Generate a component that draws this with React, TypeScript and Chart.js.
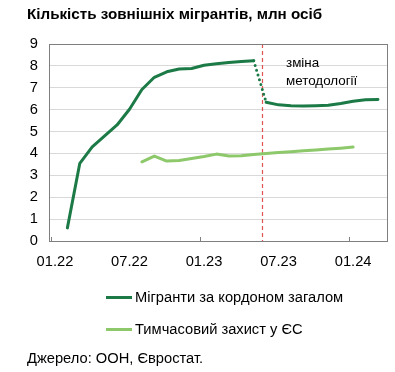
import React, { useEffect, useRef } from 'react';
import { Chart, registerables } from 'chart.js';

Chart.register(...registerables);

// ---- data ----
const axisLabels = ['01.22', '07.22', '01.23', '07.23', '01.24'];
const yearStarts = ['01.22', '01.23', '01.24'];
const methodologyChange = '06.23';

const totalMonthsBefore = ['02.22', '03.22', '04.22', '05.22', '06.22', '07.22', '08.22', '09.22', '10.22', '11.22', '12.22', '01.23', '02.23', '03.23', '04.23', '05.23'];
const totalBefore = [0.6, 3.55, 4.3, 4.8, 5.3, 6.02, 6.92, 7.48, 7.73, 7.86, 7.88, 8.03, 8.1, 8.15, 8.2, 8.24];

const totalMonthsAfter = ['06.23', '07.23', '08.23', '09.23', '10.23', '11.23', '12.23', '01.24', '02.24', '03.24'];
const totalAfter = [6.34, 6.22, 6.18, 6.17, 6.18, 6.2, 6.28, 6.38, 6.45, 6.47];

const tempMonths = ['08.22', '09.22', '10.22', '11.22', '12.22', '01.23', '02.23', '03.23', '04.23', '05.23', '06.23', '07.23', '08.23', '09.23', '10.23', '11.23', '12.23', '01.24'];
const tempProtection = [3.62, 3.88, 3.65, 3.68, 3.77, 3.86, 3.97, 3.88, 3.9, 3.95, 4.0, 4.04, 4.08, 4.12, 4.16, 4.2, 4.24, 4.29];

const seriesNames = ['Мігранти за кордоном загалом', 'Тимчасовий захист у ЄС'];

// ---- helpers ----
const monthIndex = (s: string) => {
  const [mm, yy] = s.split('.').map(Number);
  return (yy - 22) * 12 + (mm - 1);
};
const toPoints = (months: string[], vals: number[]) => months.map((m, i) => ({ x: monthIndex(m), y: vals[i] }));

const DARK = '#1b7a46';
const LIGHT = '#8dc86b';
const RED = '#e05454';
const FONT = '"Liberation Sans", Arial, sans-serif';
const FS = 14.7;
const MONTH_START_SHIFT = 0.35;

const framePlugin = {
  id: 'frame',
  beforeDatasetsDraw(chart: any) {
    const { ctx, chartArea: a, scales } = chart;
    const x = scales.x;
    ctx.save();
    const rx = Math.round(x.getPixelForValue(monthIndex(methodologyChange) - MONTH_START_SHIFT)) + 0.5;
    ctx.strokeStyle = RED;
    ctx.lineWidth = 1.2;
    ctx.setLineDash([4, 3]);
    ctx.beginPath();
    ctx.moveTo(rx, a.top);
    ctx.lineTo(rx, a.bottom);
    ctx.stroke();
    ctx.restore();
  },
  afterDraw(chart: any) {
    const { ctx, chartArea: a, scales } = chart;
    const x = scales.x;
    ctx.save();
    ctx.strokeStyle = '#7f7f7f';
    ctx.lineWidth = 1;
    ctx.strokeRect(Math.round(a.left) + 0.5, Math.round(a.top) + 0.5, Math.round(a.right - a.left), Math.round(a.bottom - a.top));
    ctx.beginPath();
    yearStarts.forEach((m) => {
      const px = Math.round(x.getPixelForValue(monthIndex(m) - MONTH_START_SHIFT)) + 0.5;
      if (px > a.left + 2 && px < a.right - 2) {
        ctx.moveTo(px, a.bottom);
        ctx.lineTo(px, a.bottom - 4);
      }
    });
    ctx.stroke();
    ctx.restore();
  },
};

export default function App() {
  const ref = useRef<HTMLCanvasElement | null>(null);

  useEffect(() => {
    document.body.style.margin = '0';
    if (!ref.current) return;
    const before = toPoints(totalMonthsBefore, totalBefore);
    const after = toPoints(totalMonthsAfter, totalAfter);
    const chart = new Chart(ref.current, {
      type: 'line',
      data: {
        datasets: [
          { label: seriesNames[0], data: before, borderColor: DARK, borderWidth: 3, pointRadius: 0, tension: 0, borderCapStyle: 'round', borderJoinStyle: 'round' },
          { label: 'bridge', data: [before[before.length - 1], after[0]], borderColor: DARK, borderWidth: 3, pointRadius: 0, tension: 0, borderDash: [0, 5], borderCapStyle: 'round' },
          { label: seriesNames[0] + ' ', data: after, borderColor: DARK, borderWidth: 3, pointRadius: 0, tension: 0, borderCapStyle: 'round', borderJoinStyle: 'round' },
          { label: seriesNames[1], data: toPoints(tempMonths, tempProtection), borderColor: LIGHT, borderWidth: 3, pointRadius: 0, tension: 0, borderCapStyle: 'round', borderJoinStyle: 'round' },
        ],
      },
      options: {
        animation: false,
        responsive: false,
        maintainAspectRatio: false,
        layout: { padding: { left: 9, right: 8, top: 44, bottom: 91 } },
        plugins: { legend: { display: false }, tooltip: { enabled: false }, title: { display: false } },
        scales: {
          x: {
            type: 'linear',
            min: -0.48,
            max: 26.73,
            afterFit: (s: any) => { s.height = 40; },
            afterBuildTicks: (s: any) => { s.ticks = axisLabels.map((l) => ({ value: monthIndex(l) })); },
            grid: { display: false, drawTicks: false },
            border: { display: false },
            ticks: {
              padding: 12,
              maxRotation: 0,
              autoSkip: false,
              color: '#000',
              font: { family: FONT, size: FS },
              callback: (v: any) => axisLabels.find((l) => monthIndex(l) === v) ?? '',
            },
          },
          y: {
            min: 0,
            max: 9,
            afterFit: (s: any) => { s.width = 40; },
            grid: {
              color: (c: any) => (c.tick && (c.tick.value === 0 || c.tick.value === 9) ? 'rgba(0,0,0,0)' : '#d9d9d9'),
              drawTicks: false,
              lineWidth: 1,
            },
            border: { display: false },
            ticks: { stepSize: 1, padding: 11, color: '#000', font: { family: FONT, size: FS } },
          },
        },
      },
      plugins: [framePlugin],
    });
    return () => chart.destroy();
  }, []);

  const text: React.CSSProperties = { position: 'absolute', fontFamily: FONT, color: '#000', whiteSpace: 'nowrap' };

  return (
    <div style={{ position: 'relative', width: 395, height: 372, background: '#fff', overflow: 'hidden' }}>
      <canvas ref={ref} width={395} height={372} style={{ position: 'absolute', left: 0, top: 0, width: 395, height: 372 }} />
      <div style={{ ...text, left: 27, top: 5, fontSize: 15.2, fontWeight: 'bold' }}>Кількість зовнішніх мігрантів, млн осіб</div>
      <div style={{ ...text, left: 286, top: 54, fontSize: 13.4, lineHeight: '18px' }}>зміна<br />методології</div>
      <div style={{ position: 'absolute', left: 106, top: 287 }}>
        <div style={{ display: 'flex', alignItems: 'center', height: 20 }}>
          <span style={{ display: 'inline-block', width: 26, height: 3, background: DARK, marginRight: 3 }} />
          <span style={{ ...text, position: 'static', fontSize: FS }}>{seriesNames[0]}</span>
        </div>
        <div style={{ display: 'flex', alignItems: 'center', height: 20, marginTop: 12 }}>
          <span style={{ display: 'inline-block', width: 26, height: 3, background: LIGHT, marginRight: 3 }} />
          <span style={{ ...text, position: 'static', fontSize: FS }}>{seriesNames[1]}</span>
        </div>
      </div>
      <div style={{ ...text, left: 27, top: 350, fontSize: FS }}>Джерело: ООН, Євростат.</div>
    </div>
  );
}
